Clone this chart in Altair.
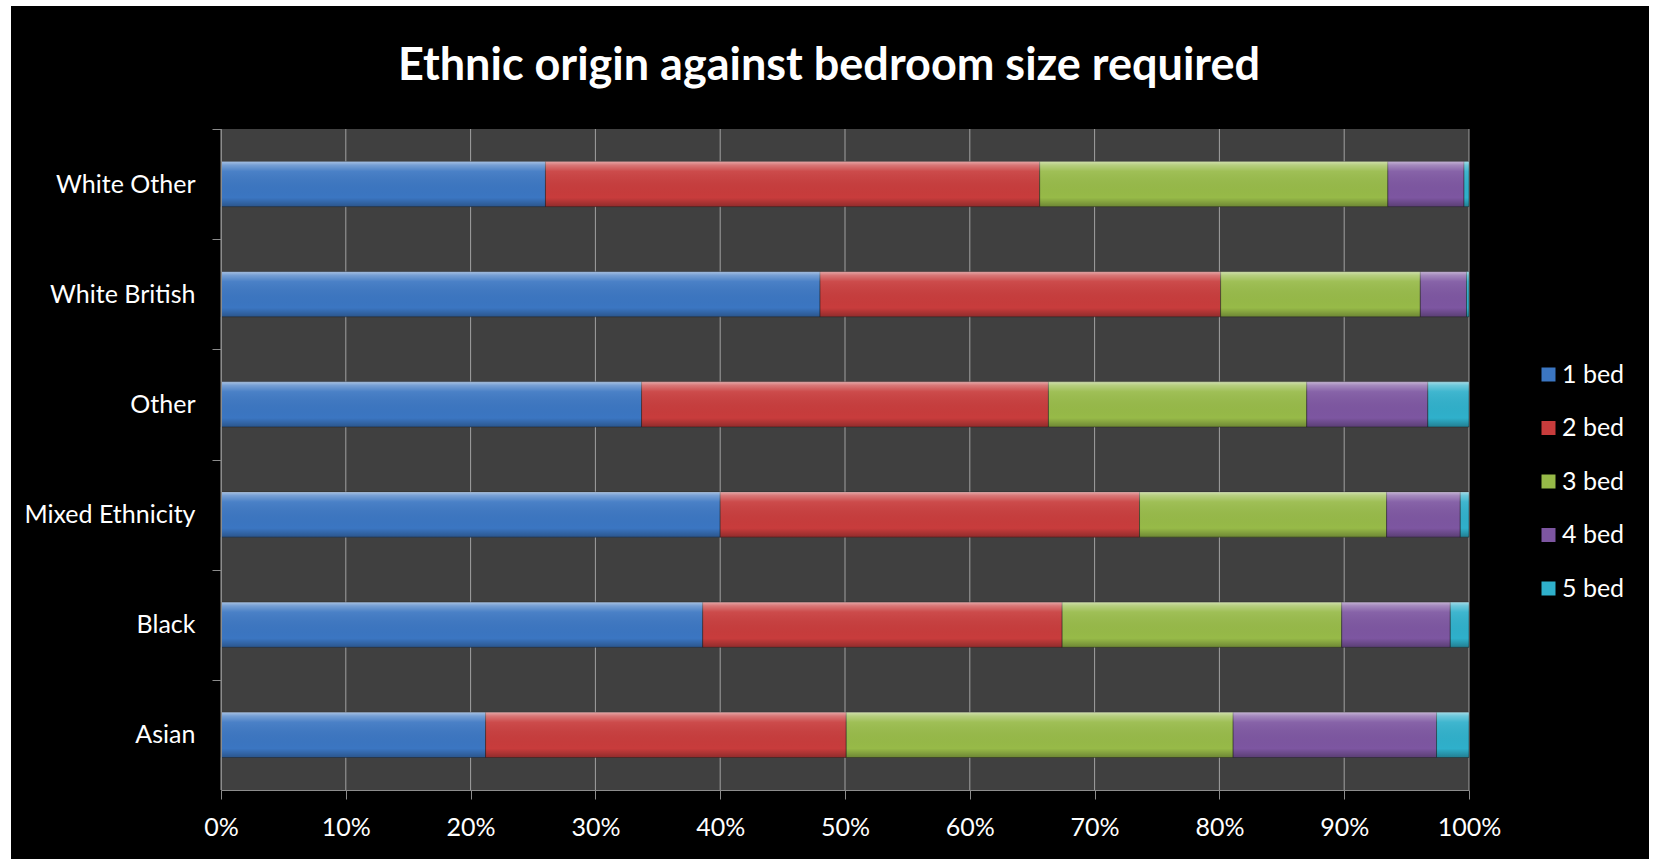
import altair as alt
import pandas as pd

categories = ["White Other", "White British", "Other", "Mixed Ethnicity", "Black", "Asian"]
series = ["1 bed", "2 bed", "3 bed", "4 bed", "5 bed"]
one_bed = [26.0, 48.0, 33.7, 40.0, 38.6, 21.2]
two_bed = [39.6, 32.1, 32.6, 33.6, 28.8, 28.9]
three_bed = [27.9, 16.0, 20.7, 19.8, 22.4, 31.0]
four_bed = [6.1, 3.7, 9.7, 5.9, 8.7, 16.3]
five_bed = [0.4, 0.2, 3.3, 0.7, 1.5, 2.6]
x_ticks = [0, 0.1, 0.2, 0.3, 0.4, 0.5, 0.6, 0.7, 0.8, 0.9, 1.0]
colors = ["#3b76c2", "#c83c3c", "#97ba48", "#7d56a1", "#2fb0cb"]

rows = []
for i, c in enumerate(categories):
    for j, vals in enumerate([one_bed, two_bed, three_bed, four_bed, five_bed]):
        rows.append({"group": c, "size": series[j], "order": j, "value": vals[i]})
df = pd.DataFrame(rows)

W, H = 1248, 661
FONT = "Lato"
FS = 25
AX = "#8c8c8c"

x_axis = alt.Axis(title=None, format="%", values=x_ticks, labelFont=FONT, labelFontSize=FS,
                  labelColor="white", domainColor=AX, tickColor=AX, tickSize=9,
                  labelPadding=16, grid=False, zindex=1, labelFlush=False)
y_axis = alt.Axis(title=None, labelFont=FONT, labelFontSize=FS, labelColor="white",
                  domainColor=AX, tickColor=AX, tickSize=9, tickOffset=-55.08,
                  labelOffset=55.08, labelPadding=17, grid=False, zindex=1, labelLimit=400)
x_scale = alt.Scale(domain=[0, 1])
y_scale = alt.Scale(paddingInner=0.59, paddingOuter=0.295)

panel = alt.Chart(alt.Data(values=[{}])).mark_rect(color="black").encode(
    x=alt.value(-210), x2=alt.value(1428), y=alt.value(-123), y2=alt.value(730))
plotbg = alt.Chart(alt.Data(values=[{}])).mark_rect(color="#404040").encode(
    x=alt.value(0), x2=alt.value(W), y=alt.value(0), y2=alt.value(H))
grid = alt.Chart(pd.DataFrame({"t": x_ticks})).mark_rule(color="#a0a0a0", strokeWidth=1).encode(
    x=alt.X("t:Q", scale=x_scale, axis=x_axis), y=alt.value(0), y2=alt.value(H))

enc = dict(
    x=alt.X("value:Q", stack="normalize", scale=x_scale, axis=x_axis),
    y=alt.Y("group:N", sort=categories, scale=y_scale, axis=y_axis),
    order=alt.Order("order:Q"),
)
bars = alt.Chart(df).mark_bar(stroke="#1e1e1e", strokeOpacity=0.45, strokeWidth=1).encode(
    color=alt.Color("size:N", sort=series, scale=alt.Scale(domain=series, range=colors),
                    legend=alt.Legend(title=None, orient="none", legendX=1315, legendY=233,
                                      symbolType="square", symbolSize=196, symbolStrokeWidth=0,
                                      symbolOpacity=1, labelFont=FONT, labelFontSize=FS,
                                      labelColor="white", rowPadding=27.5, labelOffset=1,
                                      padding=0, zindex=1)),
    **enc,
)
gloss = alt.Chart(df).mark_bar(
    color=alt.Gradient(
        gradient="linear", x1=0, x2=0, y1=0, y2=1,
        stops=[
            alt.GradientStop(color="rgba(255,255,255,0.55)", offset=0),
            alt.GradientStop(color="rgba(255,255,255,0.3)", offset=0.08),
            alt.GradientStop(color="rgba(255,255,255,0.08)", offset=0.22),
            alt.GradientStop(color="rgba(0,0,0,0.0)", offset=0.8),
            alt.GradientStop(color="rgba(0,0,0,0.28)", offset=1),
        ],
    )
).encode(**enc)

chart = alt.layer(panel, plotbg, grid, bars, gloss).properties(
    width=W, height=H,
    title=alt.TitleParams("Ethnic origin against bedroom size required", font=FONT,
                          fontSize=45, fontWeight="bold", color="white", anchor="middle",
                          baseline="alphabetic", dx=-16, dy=119, offset=0),
    background="white",
    padding={"left": 221, "top": 129, "right": 184, "bottom": 69},
    autosize=alt.AutoSizeParams(type="none"),
).configure_view(stroke=None)

chart.save("out.html", embed_options={"renderer": "svg", "actions": False})
